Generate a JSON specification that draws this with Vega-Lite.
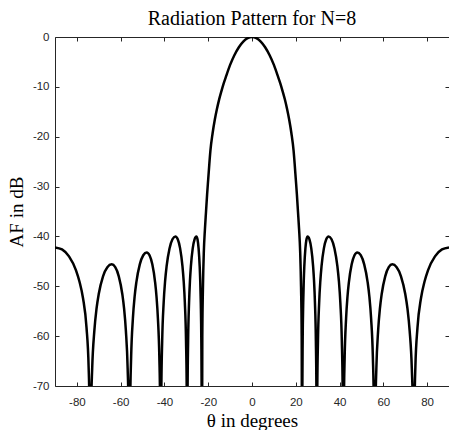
{
  "$schema": "https://vega.github.io/schema/vega-lite/v6.json",
  "width": 394,
  "height": 349,
  "autosize": {"type": "none"},
  "padding": {"left": 55, "top": 37, "right": 0, "bottom": 44},
  "background": "white",
  "config": {
    "view": {"stroke": null},
    "axis": {
      "grid": false,
      "domainColor": "#262626",
      "domainWidth": 1,
      "tickColor": "#262626",
      "tickWidth": 1,
      "tickSize": -4,
      "labelFont": "Liberation Sans",
      "labelFontSize": 11.5,
      "labelColor": "#262626",
      "labelExpr": "replace(datum.label, '\u2212', '-')",
      "titleFont": "Liberation Serif",
      "titleFontSize": 19,
      "titleFontWeight": "normal",
      "titleColor": "#000000"
    }
  },
  "title": {
    "text": "Radiation Pattern for N=8",
    "font": "Liberation Serif",
    "fontSize": 20,
    "fontWeight": "normal",
    "color": "#000000",
    "anchor": "middle",
    "offset": 2
  },
  "data": {
    "values": [
      {"theta": -90, "dB": -42.2}, {"theta": -86.8, "dB": -42.6}, {"theta": -83.6, "dB": -44.0}, {"theta": -80.4, "dB": -46.8},
      {"theta": -78.8, "dB": -49.1}, {"theta": -77.2, "dB": -52.4}, {"theta": -75.6, "dB": -58.3}, {"theta": -74.64, "dB": -66.2},
      {"theta": -74.32, "dB": -72.3}, {"theta": -74.0, "dB": -100},
      {"theta": -73.6, "dB": -76.8}, {"theta": -73.01, "dB": -66.5}, {"theta": -72.02, "dB": -58.9}, {"theta": -71.03, "dB": -54.5},
      {"theta": -70.04, "dB": -51.6}, {"theta": -68.06, "dB": -48.0}, {"theta": -66.08, "dB": -46.17}, {"theta": -64.1, "dB": -45.6},
      {"theta": -62.48, "dB": -46.17}, {"theta": -60.86, "dB": -48.0}, {"theta": -59.24, "dB": -51.6}, {"theta": -58.43, "dB": -54.5},
      {"theta": -57.62, "dB": -58.9}, {"theta": -56.81, "dB": -66.5}, {"theta": -56.32, "dB": -76.8}, {"theta": -56.0, "dB": -100},
      {"theta": -55.68, "dB": -74.4}, {"theta": -55.21, "dB": -64.1}, {"theta": -54.42, "dB": -56.5}, {"theta": -53.63, "dB": -52.1},
      {"theta": -52.84, "dB": -49.2}, {"theta": -51.26, "dB": -45.6}, {"theta": -49.68, "dB": -43.77}, {"theta": -48.1, "dB": -43.2},
      {"theta": -46.82, "dB": -43.77}, {"theta": -45.54, "dB": -45.6}, {"theta": -44.26, "dB": -49.2}, {"theta": -43.62, "dB": -52.1},
      {"theta": -42.98, "dB": -56.5}, {"theta": -42.34, "dB": -64.1}, {"theta": -41.96, "dB": -74.4}, {"theta": -41.7, "dB": -100},
      {"theta": -41.43, "dB": -71.2}, {"theta": -41.03, "dB": -60.9}, {"theta": -40.36, "dB": -53.3}, {"theta": -39.69, "dB": -48.9},
      {"theta": -39.02, "dB": -46.0}, {"theta": -37.68, "dB": -42.4}, {"theta": -36.34, "dB": -40.57}, {"theta": -35.0, "dB": -40.0},
      {"theta": -33.92, "dB": -40.57}, {"theta": -32.84, "dB": -42.4}, {"theta": -31.76, "dB": -46.0}, {"theta": -31.22, "dB": -48.9},
      {"theta": -30.68, "dB": -53.3}, {"theta": -30.14, "dB": -60.9}, {"theta": -29.82, "dB": -71.2}, {"theta": -29.6, "dB": -100},
      {"theta": -29.43, "dB": -71.2}, {"theta": -29.18, "dB": -60.9}, {"theta": -28.76, "dB": -53.3}, {"theta": -28.34, "dB": -48.9},
      {"theta": -27.92, "dB": -46.0}, {"theta": -27.08, "dB": -42.4}, {"theta": -26.24, "dB": -40.57}, {"theta": -25.4, "dB": -40.0},
      {"theta": -24.9, "dB": -40.57}, {"theta": -24.4, "dB": -42.4}, {"theta": -23.9, "dB": -46.0}, {"theta": -23.65, "dB": -48.9},
      {"theta": -23.4, "dB": -53.3}, {"theta": -23.15, "dB": -60.9}, {"theta": -23.0, "dB": -71.2}, {"theta": -22.9, "dB": -100},
      {"theta": -22.7, "dB": -60}, {"theta": -22.4, "dB": -50}, {"theta": -22, "dB": -43}, {"theta": -21.5, "dB": -38.5},
      {"theta": -21, "dB": -35}, {"theta": -20.5, "dB": -31.5}, {"theta": -20, "dB": -28.5}, {"theta": -19.5, "dB": -25.5},
      {"theta": -19, "dB": -22.8}, {"theta": -18, "dB": -19.3}, {"theta": -17, "dB": -16.6}, {"theta": -16, "dB": -14.4},
      {"theta": -15, "dB": -12.5}, {"theta": -14, "dB": -10.9}, {"theta": -13, "dB": -9.4}, {"theta": -12, "dB": -8.1},
      {"theta": -10, "dB": -5.6}, {"theta": -8, "dB": -3.6}, {"theta": -6, "dB": -2.05}, {"theta": -4, "dB": -0.92},
      {"theta": -2, "dB": -0.23}, {"theta": 0, "dB": 0},
      {"theta": 2, "dB": -0.23}, {"theta": 4, "dB": -0.92}, {"theta": 6, "dB": -2.05}, {"theta": 8, "dB": -3.6},
      {"theta": 10, "dB": -5.6}, {"theta": 12, "dB": -8.1}, {"theta": 13, "dB": -9.4}, {"theta": 14, "dB": -10.9},
      {"theta": 15, "dB": -12.5}, {"theta": 16, "dB": -14.4}, {"theta": 17, "dB": -16.6}, {"theta": 18, "dB": -19.3},
      {"theta": 19, "dB": -22.8}, {"theta": 19.5, "dB": -25.5}, {"theta": 20, "dB": -28.5}, {"theta": 20.5, "dB": -31.5},
      {"theta": 21, "dB": -35}, {"theta": 21.5, "dB": -38.5}, {"theta": 22, "dB": -43}, {"theta": 22.4, "dB": -50},
      {"theta": 22.7, "dB": -60}, {"theta": 22.9, "dB": -100},
      {"theta": 23.0, "dB": -71.2}, {"theta": 23.15, "dB": -60.9}, {"theta": 23.4, "dB": -53.3}, {"theta": 23.65, "dB": -48.9},
      {"theta": 23.9, "dB": -46.0}, {"theta": 24.4, "dB": -42.4}, {"theta": 24.9, "dB": -40.57}, {"theta": 25.4, "dB": -40.0},
      {"theta": 26.24, "dB": -40.57}, {"theta": 27.08, "dB": -42.4}, {"theta": 27.92, "dB": -46.0}, {"theta": 28.34, "dB": -48.9},
      {"theta": 28.76, "dB": -53.3}, {"theta": 29.18, "dB": -60.9}, {"theta": 29.43, "dB": -71.2}, {"theta": 29.6, "dB": -100},
      {"theta": 29.82, "dB": -71.2}, {"theta": 30.14, "dB": -60.9}, {"theta": 30.68, "dB": -53.3}, {"theta": 31.22, "dB": -48.9},
      {"theta": 31.76, "dB": -46.0}, {"theta": 32.84, "dB": -42.4}, {"theta": 33.92, "dB": -40.57}, {"theta": 35.0, "dB": -40.0},
      {"theta": 36.34, "dB": -40.57}, {"theta": 37.68, "dB": -42.4}, {"theta": 39.02, "dB": -46.0}, {"theta": 39.69, "dB": -48.9},
      {"theta": 40.36, "dB": -53.3}, {"theta": 41.03, "dB": -60.9}, {"theta": 41.43, "dB": -71.2}, {"theta": 41.7, "dB": -100},
      {"theta": 41.96, "dB": -74.4}, {"theta": 42.34, "dB": -64.1}, {"theta": 42.98, "dB": -56.5}, {"theta": 43.62, "dB": -52.1},
      {"theta": 44.26, "dB": -49.2}, {"theta": 45.54, "dB": -45.6}, {"theta": 46.82, "dB": -43.77}, {"theta": 48.1, "dB": -43.2},
      {"theta": 49.68, "dB": -43.77}, {"theta": 51.26, "dB": -45.6}, {"theta": 52.84, "dB": -49.2}, {"theta": 53.63, "dB": -52.1},
      {"theta": 54.42, "dB": -56.5}, {"theta": 55.21, "dB": -64.1}, {"theta": 55.68, "dB": -74.4}, {"theta": 56.0, "dB": -100},
      {"theta": 56.32, "dB": -76.8}, {"theta": 56.81, "dB": -66.5}, {"theta": 57.62, "dB": -58.9}, {"theta": 58.43, "dB": -54.5},
      {"theta": 59.24, "dB": -51.6}, {"theta": 60.86, "dB": -48.0}, {"theta": 62.48, "dB": -46.17}, {"theta": 64.1, "dB": -45.6},
      {"theta": 66.08, "dB": -46.17}, {"theta": 68.06, "dB": -48.0}, {"theta": 70.04, "dB": -51.6}, {"theta": 71.03, "dB": -54.5},
      {"theta": 72.02, "dB": -58.9}, {"theta": 73.01, "dB": -66.5}, {"theta": 73.6, "dB": -76.8}, {"theta": 74.0, "dB": -100},
      {"theta": 74.32, "dB": -72.3}, {"theta": 74.64, "dB": -66.2}, {"theta": 75.6, "dB": -58.3}, {"theta": 77.2, "dB": -52.4},
      {"theta": 78.8, "dB": -49.1}, {"theta": 80.4, "dB": -46.8}, {"theta": 83.6, "dB": -44.0}, {"theta": 86.8, "dB": -42.6},
      {"theta": 90, "dB": -42.2}
    ]
  },
  "layer": [
    {
      "mark": {"type": "line", "color": "#000000", "strokeWidth": 2.5, "clip": true, "interpolate": "monotone"},
      "encoding": {
        "x": {
          "field": "theta", "type": "quantitative",
          "scale": {"domain": [-90, 90], "nice": false, "zero": false},
          "axis": {"orient": "bottom", "values": [-80, -60, -40, -20, 0, 20, 40, 60, 80], "labelPadding": 14, "title": "θ in degrees", "titlePadding": 4}
        },
        "y": {
          "field": "dB", "type": "quantitative",
          "scale": {"domain": [-70, 0], "nice": false, "zero": false},
          "axis": {"orient": "left", "values": [0, -10, -20, -30, -40, -50, -60, -70], "labelPadding": 10, "title": "AF in dB", "titlePadding": 6}
        }
      }
    },
    {
      "mark": {"type": "point", "opacity": 0, "clip": true},
      "encoding": {
        "x": {
          "field": "theta", "type": "quantitative",
          "scale": {"domain": [-90, 90], "nice": false, "zero": false},
          "axis": {"orient": "top", "values": [-80, -60, -40, -20, 0, 20, 40, 60, 80], "labels": false, "title": null}
        },
        "y": {
          "field": "dB", "type": "quantitative",
          "scale": {"domain": [-70, 0], "nice": false, "zero": false},
          "axis": {"orient": "right", "values": [0, -10, -20, -30, -40, -50, -60, -70], "labels": false, "title": null}
        }
      }
    }
  ],
  "resolve": {"axis": {"x": "independent", "y": "independent"}}
}
